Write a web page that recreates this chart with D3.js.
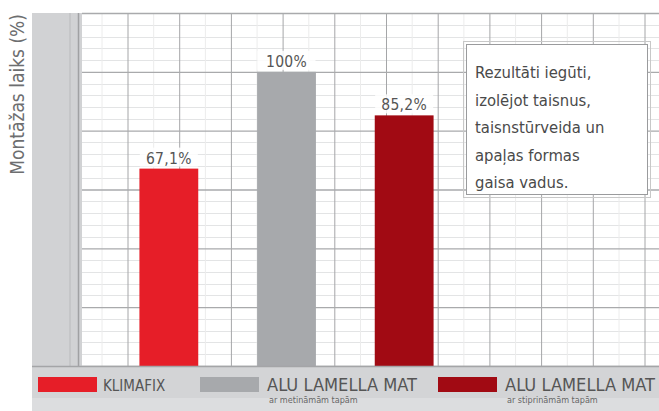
<!DOCTYPE html>
<html><head><meta charset="utf-8">
<script src="https://cdn.jsdelivr.net/npm/d3@7/dist/d3.min.js"></script>
<style>
html,body{margin:0;padding:0;background:#fff;}
svg{display:block;}
text{font-family:"DejaVu Sans Condensed","Liberation Sans Narrow","DejaVu Sans",sans-serif;font-stretch:condensed;}
</style></head>
<body>
<svg id="c" width="659" height="411"></svg>
<script>
const categories = ["KLIMAFIX", "ALU LAMELLA MAT (metināmām)", "ALU LAMELLA MAT (stiprināmām)"];
const values = [67.1, 100, 85.2];
const valueLabels = ["67,1%", "100%", "85,2%"];
const colors = ["#e61e28", "#a7a9ac", "#a10a13"];
const legendNames = ["KLIMAFIX", "ALU LAMELLA MAT", "ALU LAMELLA MAT"];
const legendSubs = ["", "ar metināmām tapām", "ar stiprināmām tapām"];
const yTicks = [0, 20, 40, 60, 80, 100, 120];
const noteLines = ["Rezultāti iegūti,", "izolējot taisnus,", "taisnstūrveida un", "apaļas formas", "gaisa vadus."];
const yTitle = "Montāžas laiks (%)";

const W = 659, H = 411;
const plot = {left: 82, right: 659, top: 13, bottom: 366};
const svg = d3.select("#c");

const y = d3.scaleLinear().domain([0, 120]).range([plot.bottom, plot.top]);
const x = d3.scaleBand().domain(categories).range([110, 463]).paddingInner(0.5).paddingOuter(0.25);

// left gray panel
svg.append("rect").attr("x", 32).attr("y", plot.top).attr("width", plot.left - 32).attr("height", H - plot.top).attr("fill", "#d1d2d4");
svg.append("line").attr("x1", 70).attr("x2", 70).attr("y1", plot.top).attr("y2", plot.bottom).attr("stroke", "#b9babc").attr("stroke-width", 1);
svg.append("line").attr("x1", 78.5).attr("x2", 78.5).attr("y1", plot.top).attr("y2", plot.bottom).attr("stroke", "#a0a1a3").attr("stroke-width", 1.5);

// plot background
svg.append("rect").attr("x", plot.left).attr("y", plot.top).attr("width", plot.right - plot.left).attr("height", plot.bottom - plot.top).attr("fill", "#ffffff");

// minor horizontal grid
const minor = d3.range(0, 120, 4).filter(v => v % 20 !== 0);
svg.append("g").selectAll("line").data(minor).join("line")
  .attr("x1", plot.left).attr("x2", plot.right)
  .attr("y1", d => Math.round(y(d)) + 0.5).attr("y2", d => Math.round(y(d)) + 0.5)
  .attr("stroke", "#e3e4e5").attr("stroke-width", 1);

// vertical grid
const vx = d3.range(0, 11).map(i => 128 + i * 51.7);
const vminor = d3.range(0, 12).map(i => 102 + i * 51.7);
svg.append("g").selectAll("line").data(vminor).join("line")
  .attr("x1", d => d).attr("x2", d => d).attr("y1", plot.top).attr("y2", plot.bottom)
  .attr("stroke", "#ececec").attr("stroke-width", 1);
svg.append("g").selectAll("line").data(vx).join("line")
  .attr("x1", d => d).attr("x2", d => d).attr("y1", plot.top).attr("y2", plot.bottom)
  .attr("stroke", "#a5a6a8").attr("stroke-width", 1);

// major horizontal grid via axis
const yAxis = d3.axisLeft(y).tickValues(yTicks).tickSize(-(plot.right - plot.left)).tickFormat("");
const ga = svg.append("g").attr("transform", `translate(${plot.left},0)`).call(yAxis);
ga.select(".domain").remove();
ga.selectAll(".tick line").attr("stroke", "#a9aaac").attr("stroke-width", 1.3);

// bars
svg.append("g").selectAll("rect").data(categories).join("rect")
  .attr("x", d => x(d)).attr("width", x.bandwidth())
  .attr("y", (d, i) => y(values[i])).attr("height", (d, i) => y(0) - y(values[i]))
  .attr("fill", (d, i) => colors[i]);

// value labels
const lab = svg.append("g").selectAll("g").data(categories).join("g")
  .attr("transform", (d, i) => `translate(${x(d) + x.bandwidth() / 2},${y(values[i]) - 5})`);
lab.append("rect").attr("x", -29).attr("y", -16).attr("width", 58).attr("height", 19).attr("fill", "#ffffff").attr("opacity", 0.85);
lab.append("text").attr("text-anchor", "middle").attr("font-size", 15.5).attr("letter-spacing", 0.3).attr("fill", "#555")
  .text((d, i) => valueLabels[i]);

// bottom band
svg.append("rect").attr("x", 32).attr("y", plot.bottom).attr("width", W - 32).attr("height", H - plot.bottom).attr("fill", "#d3d4d6");
svg.append("line").attr("x1", 32).attr("x2", W).attr("y1", plot.bottom + 0.5).attr("y2", plot.bottom + 0.5).attr("stroke", "#a4a5a7").attr("stroke-width", 1.5);
svg.append("rect").attr("x", 32).attr("y", 398).attr("width", W - 32).attr("height", 13).attr("fill", "#dcdddf");

// legend
const legX = [38, 200, 438];
const lg = svg.append("g").selectAll("g").data(legendNames).join("g")
  .attr("transform", (d, i) => `translate(${legX[i]},377)`);
lg.append("rect").attr("width", 59).attr("height", 15).attr("fill", (d, i) => colors[i]);
lg.append("text").attr("x", (d, i) => i === 0 ? 65 : 67).attr("y", 13.5)
  .attr("font-size", (d, i) => i === 0 ? 15 : 18.5).attr("fill", "#555")
  .each(function(d, i) { if (i > 0) d3.select(this).attr("textLength", 150).attr("lengthAdjust", "spacingAndGlyphs"); })
  .text(d => d);
lg.append("text").attr("x", 69).attr("y", 26).attr("font-size", 9).attr("fill", "#666").text((d, i) => legendSubs[i]);

// y title
svg.append("text").attr("transform", "translate(24,14) rotate(-90)").attr("text-anchor", "end")
  .attr("font-size", 19).attr("fill", "#6d6e70").text(yTitle);

// note box
svg.append("rect").attr("x", 463.5).attr("y", 41.5).attr("width", 187).attr("height", 156).attr("fill", "none").attr("stroke", "#c8c8c8");
svg.append("rect").attr("x", 466.5).attr("y", 44.5).attr("width", 181).attr("height", 150).attr("fill", "#ffffff").attr("stroke", "#9a9b9d");
svg.append("g").selectAll("text").data(noteLines).join("text")
  .attr("x", 475).attr("y", (d, i) => 78 + i * 27.5).attr("font-size", 16.5).attr("fill", "#4a4a4a").text(d => d);
</script>
</body></html>
